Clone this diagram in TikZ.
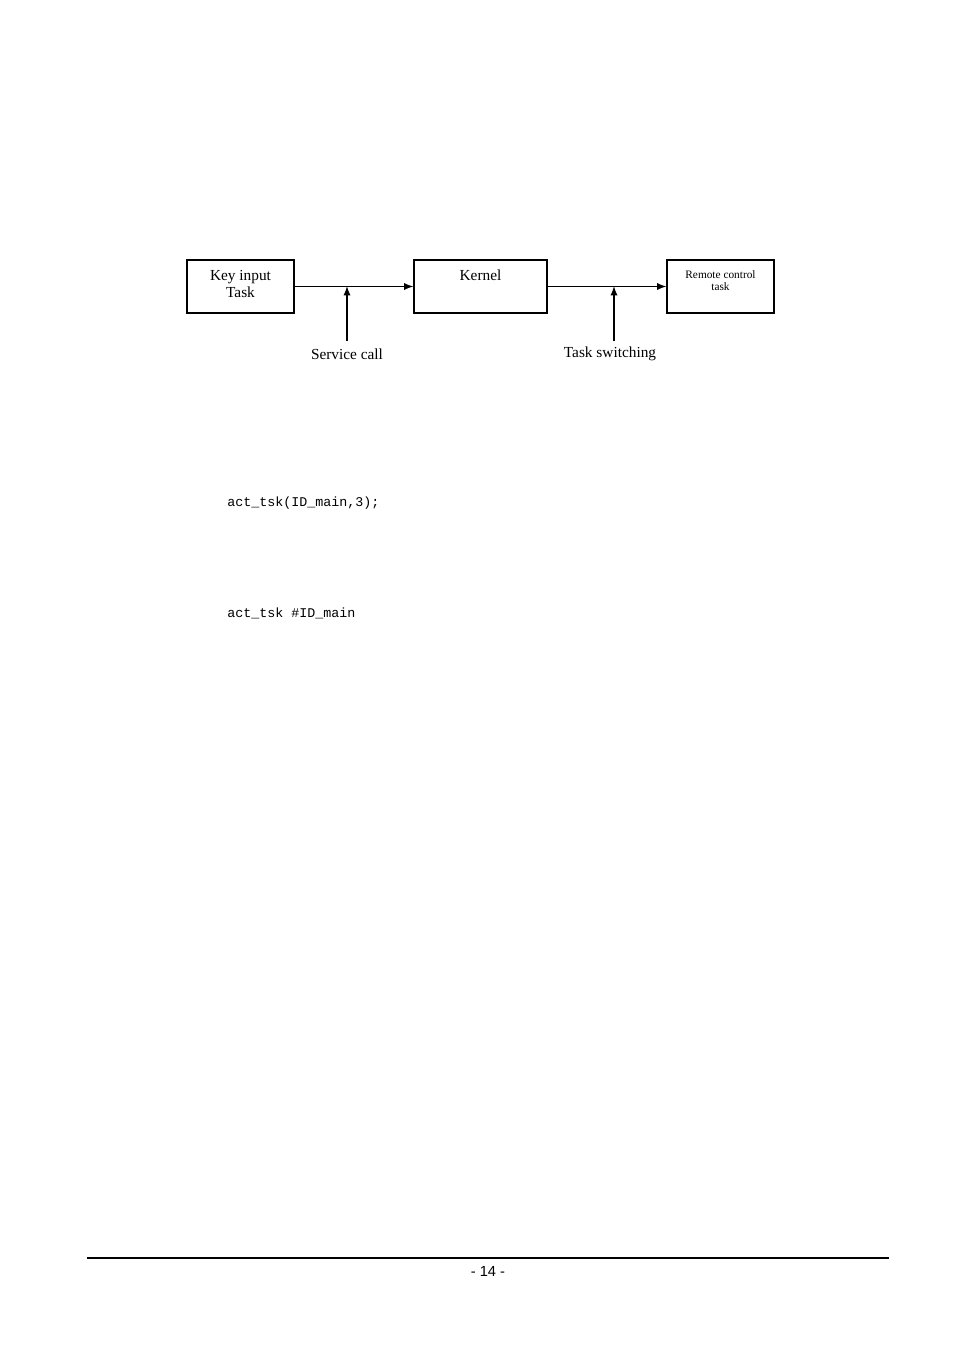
\documentclass[tikz,border=0pt]{standalone}
\usepackage{fontspec}
\setmainfont{Liberation Serif}
\newfontfamily\monof{Liberation Mono}
\newfontfamily\sansf{Liberation Sans}
\begin{document}
\begin{tikzpicture}[x=0.75pt,y=-0.75pt,
  blk/.style={draw,line width=0.8pt,minimum width=#1*0.75pt,minimum height=53*0.75pt,inner sep=0pt},
  arr/.style={-latex,line width=1.4pt},
  lbl/.style={font=\fontsize{11.5}{13}\selectfont,align=center,inner sep=0pt}]
\useasboundingbox (0,0) rectangle (954,1350);
\node[blk=107] (key) at (240.5,286.5) {};
\node[blk=133] (ker) at (480.5,286.5) {};
\node[blk=107] (rem) at (720.5,286.5) {};
\node[lbl] (keyt) at (240.5,284) {Key input\\Task};
\node[lbl] (kert) at (480.5,275) {Kernel};
\node[lbl,font=\fontsize{8.5}{9.5}\selectfont] (remt) at (720.5,280.5) {Remote control\\task};
\draw[arr] (key.east) -- (ker.west);
\draw[arr] (ker.east) -- (rem.west);
\coordinate (sc) at (347,286);
\coordinate (ts) at (614,286);
\coordinate (scb) at (347,341);
\coordinate (tsb) at (614,341);
\draw[arr] (scb) -- (sc);
\draw[arr] (tsb) -- (ts);
\node[lbl] (scl) at (347,354) {Service call};
\node[lbl] (tsl) at (610,354) {Task switching};
\node[anchor=west,inner sep=0pt,font=\monof\fontsize{10}{12}\selectfont] (c1) at (227,503) {act\_tsk(ID\_main,3);};
\node[anchor=west,inner sep=0pt,font=\monof\fontsize{10}{12}\selectfont] (c2) at (227,613) {act\_tsk \#ID\_main};
\coordinate (fl) at (87,1258);
\coordinate (fr) at (889,1258);
\draw[line width=1.2pt] (fl) -- (fr);
\node[font=\sansf\fontsize{11}{13}\selectfont,inner sep=0pt] (pg) at (488,1271) {- 14 -};
\end{tikzpicture}
\end{document}
